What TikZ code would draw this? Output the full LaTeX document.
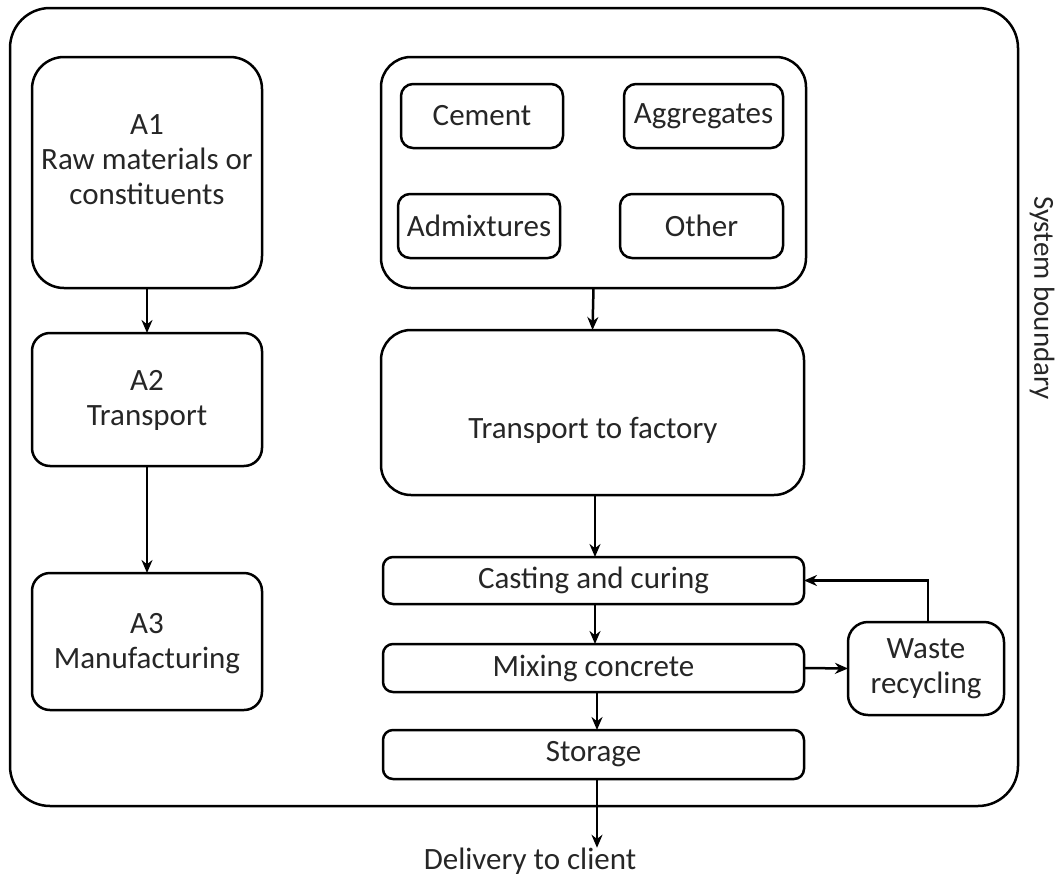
\documentclass[tikz,border=0pt]{standalone}
\usepackage{fontspec}
\setmainfont{Carlito}
\usetikzlibrary{arrows.meta}
\begin{document}
\begin{tikzpicture}[x=1pt,y=-1pt,
  every node/.style={inner sep=0pt, outer sep=0pt},
  txt/.style={font=\fontsize{31}{35}\selectfont, align=center, text=black!85},
  box/.style={draw, line width=2.5pt, rounded corners=#1},
  box/.default=12pt,
  arr/.style={line width=2.5pt, -{Stealth[length=13pt,width=11pt]}}
]
\useasboundingbox (0,0) rectangle (1060,878);
% outer system boundary
\node[box=40pt, minimum width=1008pt, minimum height=798pt] (sys) at (514,407) {};
\node[txt, font=\fontsize{29}{35}\selectfont, rotate=-90] (sbl) at (1042,298) {System boundary};
% left column
\node[box=32pt, minimum width=230pt, minimum height=231pt] (a1) at (147,172.5) {};
\node[txt] (a1t) at (147,160) {A1\\Raw materials or\\constituents};
\node[box=18pt, minimum width=230pt, minimum height=133pt] (a2) at (147,399.5) {};
\node[txt] (a2t) at (147,400) {A2\\Transport};
\node[box=18pt, minimum width=230pt, minimum height=137pt] (a3) at (147,641.5) {};
\node[txt] (a3t) at (147,644) {A3\\Manufacturing};
\draw[arr] (a1.south) -- (a2.north);
\draw[arr] (a2.south) -- (a3.north);
% constituents group
\node[box=30pt, minimum width=425pt, minimum height=231pt] (grp) at (593.5,172.5) {};
\node[box=12pt, txt, minimum width=162pt, minimum height=64pt] (cem) at (482,116) {Cement};
\node[box=12pt, txt, minimum width=159pt, minimum height=64pt] (agg) at (703.5,116) {Aggregates};
\node[box=12pt, txt, minimum width=162pt, minimum height=64pt] (adm) at (479,226) {Admixtures};
\node[box=12pt, txt, minimum width=163pt, minimum height=64pt] (oth) at (701.5,226) {Other};
% right column process
\node[box=30pt, minimum width=423pt, minimum height=165pt] (tra) at (592.5,412.5) {};
\node[txt] (trat) at (593,430) {Transport to factory};
\node[box=10pt, txt, minimum width=421pt, minimum height=47pt] (cas) at (593.5,580.5) {Casting and curing};
\node[box=10pt, txt, minimum width=421pt, minimum height=48pt] (mix) at (593.5,668) {Mixing concrete};
\node[box=10pt, txt, minimum width=421pt, minimum height=49pt] (sto) at (593.5,754.5) {Storage};
\node[box=20pt, txt, minimum width=156pt, minimum height=93pt] (was) at (926,668.5) {Waste\\recycling};
\node[txt] (del) at (530,861) {Delivery to client};
\draw[arr] (grp.south) -- (tra.north);
\draw[arr] (tra.south -| 595,0) -- (cas.north -| 595,0);
\draw[arr] (cas.south -| 595,0) -- (mix.north -| 595,0);
\draw[arr] (mix.south -| 597,0) -- (sto.north -| 597,0);
\draw[arr] (sto.south -| 597,0) -- (del.north -| 597,0);
\draw[arr] (mix.east) -- (was.west);
\draw[arr] (was.north -| 928,0) |- (cas.east);
\end{tikzpicture}
\end{document}
